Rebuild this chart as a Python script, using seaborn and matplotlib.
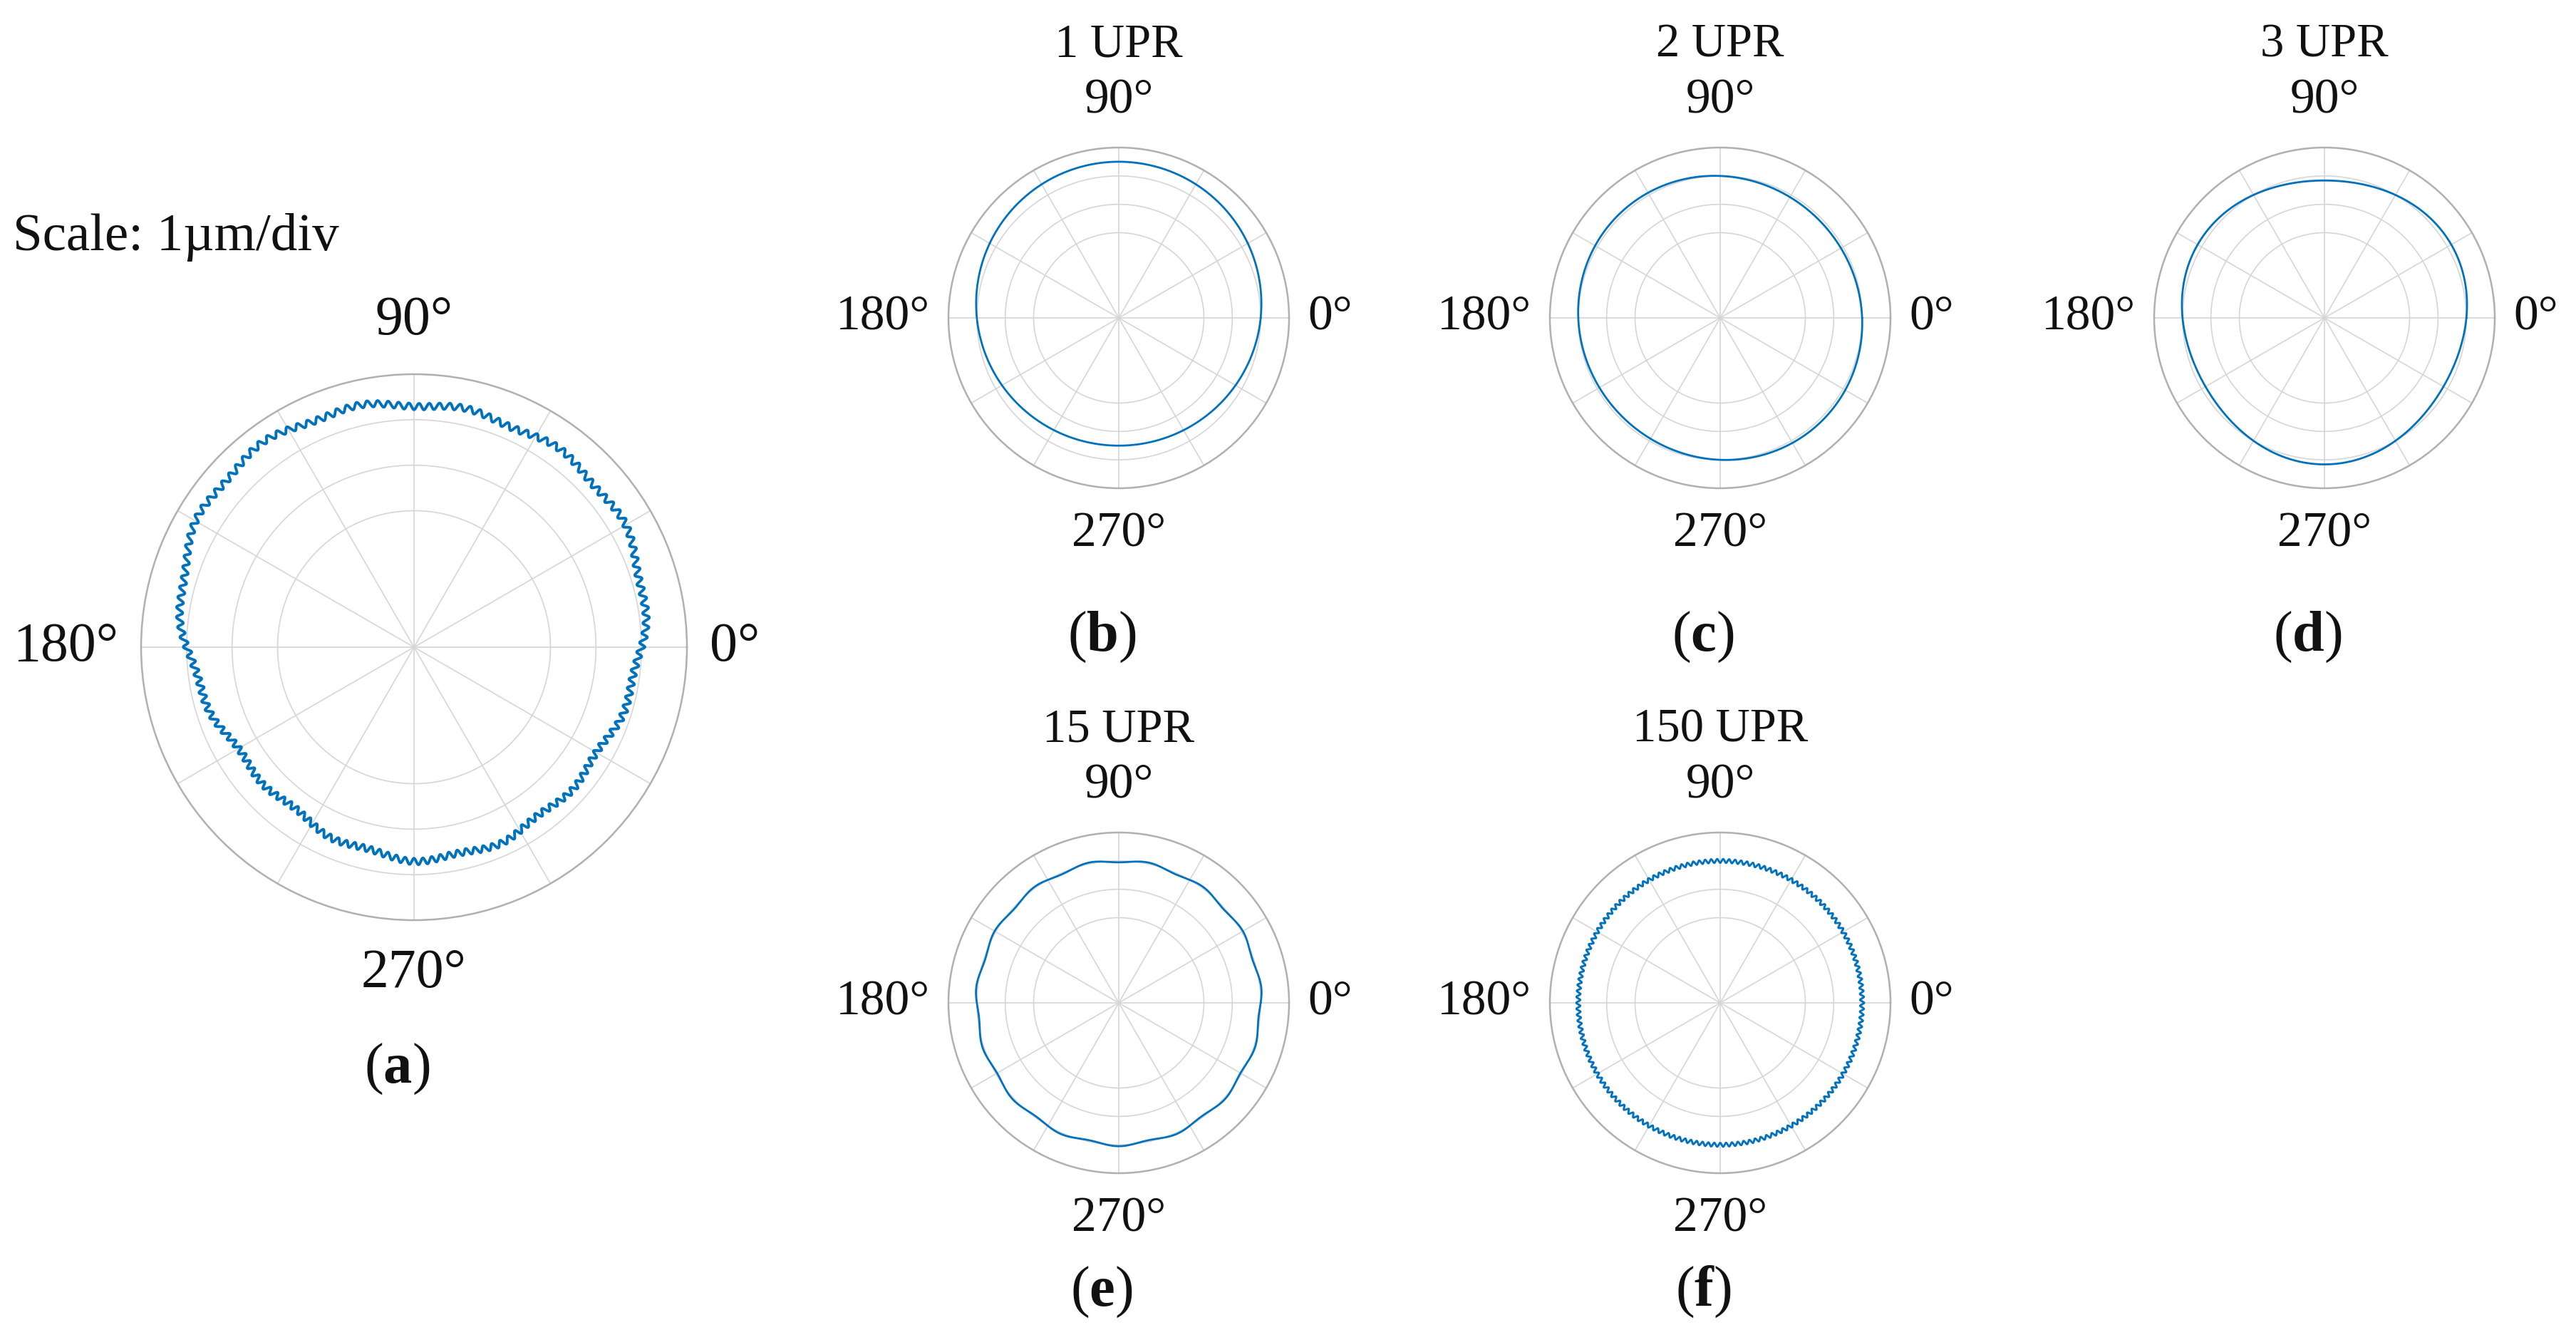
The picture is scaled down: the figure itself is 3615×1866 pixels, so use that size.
import numpy as np
import matplotlib
matplotlib.use('Agg')
import matplotlib.pyplot as plt
import seaborn as sns

# harmonic content of the roundness profile (µm, 1 div = 1 µm)
base_radius = 5.0
upr_orders = [1, 2, 3, 15, 150]
upr_amplitude = [0.50, 0.10, 0.16, 0.05, 0.07]
upr_peak_deg = [90, 135, 270, 270, 0]
panel_titles = ['1 UPR', '2 UPR', '3 UPR', '15 UPR', '150 UPR']
panel_letters = ['b', 'c', 'd', 'e', 'f']
theta_labels = ['0°', '90°', '180°', '270°']
ring_ticks = [3, 4, 5]
r_max = 6

sns.set_theme(style='white')
plt.rcParams['font.family'] = ['Liberation Serif', 'DejaVu Serif']
plt.rcParams['text.color'] = '#111111'
plt.rcParams['mathtext.fontset'] = 'custom'
plt.rcParams['mathtext.rm'] = 'Liberation Serif'
plt.rcParams['mathtext.bf'] = 'Liberation Serif:bold'

LINE = '#0072BD'
W, H = 3616, 1866
fig = plt.figure(figsize=(W / 200, H / 200), dpi=200)

theta = np.linspace(0, 2 * np.pi, 3601)


def component(i):
    k = upr_orders[i]
    return upr_amplitude[i] * np.cos(k * (theta - np.deg2rad(upr_peak_deg[i])))


def polar_panel(cx, cy, rad, lsize, hgap, vgap):
    ax = fig.add_axes([(cx - rad) / W, 1 - (cy + rad) / H, 2 * rad / W, 2 * rad / H],
                      projection='polar')
    ax.set_ylim(0, r_max)
    ax.set_xticks(np.deg2rad(np.arange(0, 360, 30)))
    ax.set_xticklabels([])
    ax.set_yticks(ring_ticks)
    ax.set_yticklabels([])
    ax.tick_params(length=0)
    ax.grid(True, color='#d6d6d6', lw=0.6)
    ax.spines['polar'].set_color('#b0b0b0')
    ax.spines['polar'].set_linewidth(0.9)
    kw = dict(xycoords='axes fraction', textcoords='offset points', fontsize=lsize)
    ax.annotate(theta_labels[0], xy=(1, 0.5), xytext=(hgap, 0), ha='left', va='center', **kw)
    ax.annotate(theta_labels[2], xy=(0, 0.5), xytext=(-hgap, 0), ha='right', va='center', **kw)
    ax.annotate(theta_labels[1], xy=(0.5, 1), xytext=(0, vgap), ha='center', va='center', **kw)
    ax.annotate(theta_labels[3], xy=(0.5, 0), xytext=(0, -vgap), ha='center', va='center', **kw)
    return ax


# (a) full measured profile = sum of all components
ax = polar_panel(581, 908, 383, 28, 11.5, 27)
total = base_radius + sum(component(i) for i in range(len(upr_orders)))
sns.lineplot(x=theta, y=total, ax=ax, color=LINE, lw=1.4, sort=False)
ax.set_ylim(0, r_max)
ax.annotate(r'($\mathbf{a}$)', xy=(0.5, 0), xycoords='axes fraction', xytext=(-8.6, -75),
            textcoords='offset points', ha='center', va='center', fontsize=29)
fig.text(18 / W, 1 - 333 / H, 'Scale: 1µm/div', ha='left', va='center', fontsize=27)

# (b)-(f) single harmonics
centers = [(1570, 446), (2414, 446), (3262, 446), (1570, 1407), (2414, 1407)]
letter_drop = [75, 75, 75, 60, 60]
for i, (cx, cy) in enumerate(centers):
    ax = polar_panel(cx, cy, 239, 25, 9.4, 23.4)
    sns.lineplot(x=theta, y=base_radius + component(i), ax=ax, color=LINE, lw=1.0, sort=False)
    ax.set_ylim(0, r_max)
    ax.annotate(panel_titles[i], xy=(0.5, 1), xycoords='axes fraction', xytext=(0, 52),
                textcoords='offset points', ha='center', va='center', fontsize=24)
    ax.annotate('($\\mathbf{%s}$)' % panel_letters[i], xy=(0.5, 0), xycoords='axes fraction',
                xytext=(-8.6, -letter_drop[i]), textcoords='offset points',
                ha='center', va='center', fontsize=29)
    ax.set_xlabel('')
    ax.set_ylabel('')

fig.savefig('out.png', dpi=200, facecolor='white')
